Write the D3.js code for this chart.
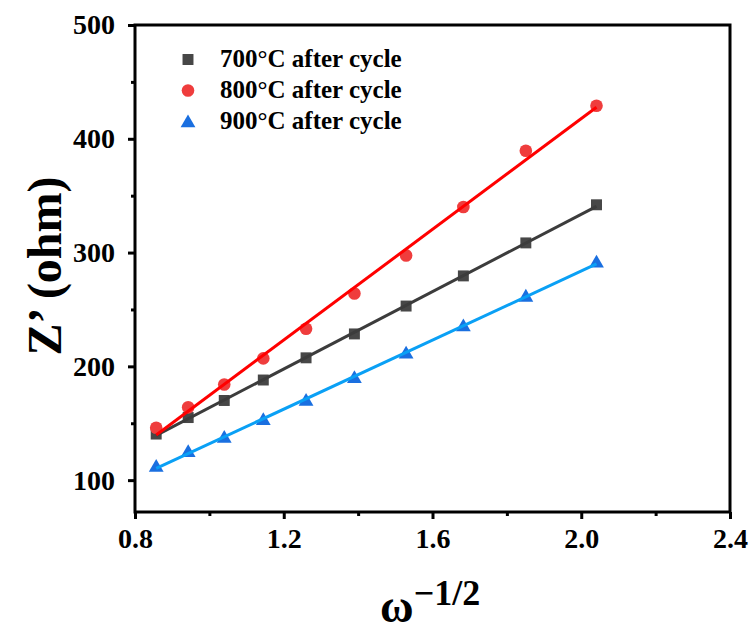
<!DOCTYPE html>
<html>
<head>
<meta charset="utf-8">
<script src="https://cdn.jsdelivr.net/npm/d3@7"></script>
<style>
  html, body { margin: 0; padding: 0; background: #fff; }
  svg text { font-family: "Liberation Serif", "Times New Roman", serif !important; font-weight: bold; fill: #000; }
</style>
</head>
<body>
<svg id="chart" width="755" height="631"></svg>
<script>
// ---- data ----
const xValues = [0.857, 0.943, 1.040, 1.145, 1.260, 1.390, 1.529, 1.683, 1.851, 2.041];
const z700 = [140.5, 155, 170, 188, 207.5, 228.5, 253, 279.5, 308.5, 342];
const z800 = [146, 164, 184, 207, 233, 264, 297.5, 340, 389.5, 429];
const z900 = [112, 125, 137.5, 153, 170, 190, 211.5, 235.5, 261.5, 291.5];
const seriesNames = ["700°C after cycle", "800°C after cycle", "900°C after cycle"];
const xTicks = [0.8, 1.2, 1.6, 2.0, 2.4];
const xMinorTicks = [1.0, 1.4, 1.8, 2.2];
const yTicks = [100, 200, 300, 400, 500];
const yMinorTicks = [150, 250, 350, 450];

const FONT = '"Liberation Serif", "Times New Roman", serif';

const series = [
  { name: seriesNames[0], values: z700, marker: "square",   fill: "#474747", line: "#3c3c3c" },
  { name: seriesNames[1], values: z800, marker: "circle",   fill: "#ef3d3d", line: "#ff0000" },
  { name: seriesNames[2], values: z900, marker: "triangle", fill: "#1a6fe0", line: "#0aa0f5" }
];

const svg = d3.select("#chart");
const x = d3.scaleLinear().domain([0.8, 2.4]).range([135, 730]);
const y = d3.scaleLinear().domain([72, 500]).range([512, 25]);

// least-squares fit
function fit(xs, ys) {
  const mx = d3.mean(xs), my = d3.mean(ys);
  let sxy = 0, sxx = 0;
  xs.forEach((v, i) => { sxy += (v - mx) * (ys[i] - my); sxx += (v - mx) * (v - mx); });
  const b = sxy / sxx, a = my - b * mx;
  return v => a + b * v;
}

const symbolFor = {
  square: d3.symbol().type(d3.symbolSquare).size(120),
  circle: d3.symbol().type(d3.symbolCircle).size(125),
  triangle: d3.symbol().type(d3.symbolTriangle).size(95)
};

// markers
series.forEach(s => {
  svg.append("g").selectAll("path")
    .data(s.values.map((v, i) => [xValues[i], v]))
    .join("path")
    .attr("d", symbolFor[s.marker]())
    .attr("transform", d => `translate(${x(d[0])},${y(d[1]) + (s.marker === "triangle" ? 1 : 0)})`)
    .attr("fill", s.fill);
});

// fit lines
series.forEach(s => {
  const f = fit(xValues, s.values);
  const x0 = xValues[0], x1 = xValues[xValues.length - 1];
  svg.append("line")
    .attr("x1", x(x0)).attr("y1", y(f(x0)))
    .attr("x2", x(x1)).attr("y2", y(f(x1)))
    .attr("stroke", s.line).attr("stroke-width", 3);
});

// frame
svg.append("rect")
  .attr("x", x(0.8)).attr("y", y(500))
  .attr("width", x(2.4) - x(0.8)).attr("height", y(72) - y(500))
  .attr("fill", "none").attr("stroke", "#000").attr("stroke-width", 3);

// axes
const xAxis = svg.append("g").attr("transform", `translate(0,${y(72)})`)
  .call(d3.axisBottom(x).tickValues(xTicks).tickFormat(d3.format(".1f")).tickSizeInner(7).tickSizeOuter(0).tickPadding(9));
const xMinor = svg.append("g").attr("transform", `translate(0,${y(72)})`)
  .call(d3.axisBottom(x).tickValues(xMinorTicks).tickFormat("").tickSizeInner(4).tickSizeOuter(0));
const yAxis = svg.append("g").attr("transform", `translate(${x(0.8)},0)`)
  .call(d3.axisLeft(y).tickValues(yTicks).tickFormat(d3.format("d")).tickSizeInner(7).tickSizeOuter(0).tickPadding(13));
const yMinor = svg.append("g").attr("transform", `translate(${x(0.8)},0)`)
  .call(d3.axisLeft(y).tickValues(yMinorTicks).tickFormat("").tickSizeInner(4).tickSizeOuter(0));

[xAxis, xMinor, yAxis, yMinor].forEach(g => {
  g.attr("font-family", FONT).attr("font-size", null);
  g.select(".domain").remove();
  g.selectAll(".tick line").attr("stroke", "#000").attr("stroke-width", 3);
});
xAxis.selectAll(".tick text").style("font-family", FONT).style("font-size", "28px").attr("fill", "#000");
yAxis.selectAll(".tick text").style("font-family", FONT).style("font-size", "28px").attr("fill", "#000");

// legend
const legend = svg.append("g");
series.forEach((s, i) => {
  const cy = 59.5 + i * 31;
  legend.append("path")
    .attr("d", symbolFor[s.marker]())
    .attr("transform", `translate(188,${cy + (s.marker === "triangle" ? 1.5 : 0)})`)
    .attr("fill", s.fill);
  legend.append("text")
    .attr("x", 220).attr("y", cy + 7)
    .style("font-family", FONT)
    .style("font-size", "25px")
    .text(s.name);
});

// axis titles
svg.append("text")
  .attr("transform", "translate(61,266) rotate(-90)")
  .attr("text-anchor", "middle")
  .style("font-family", FONT)
  .style("font-size", "48px")
  .text("Z’ (ohm)");

const xt = svg.append("text").attr("x", 380).attr("y", 622).style("font-family", FONT);
xt.append("tspan").style("font-size", "46px").text("ω");
xt.append("tspan").attr("dy", -17).style("font-size", "36px").text("−1/2");
</script>
</body>
</html>
